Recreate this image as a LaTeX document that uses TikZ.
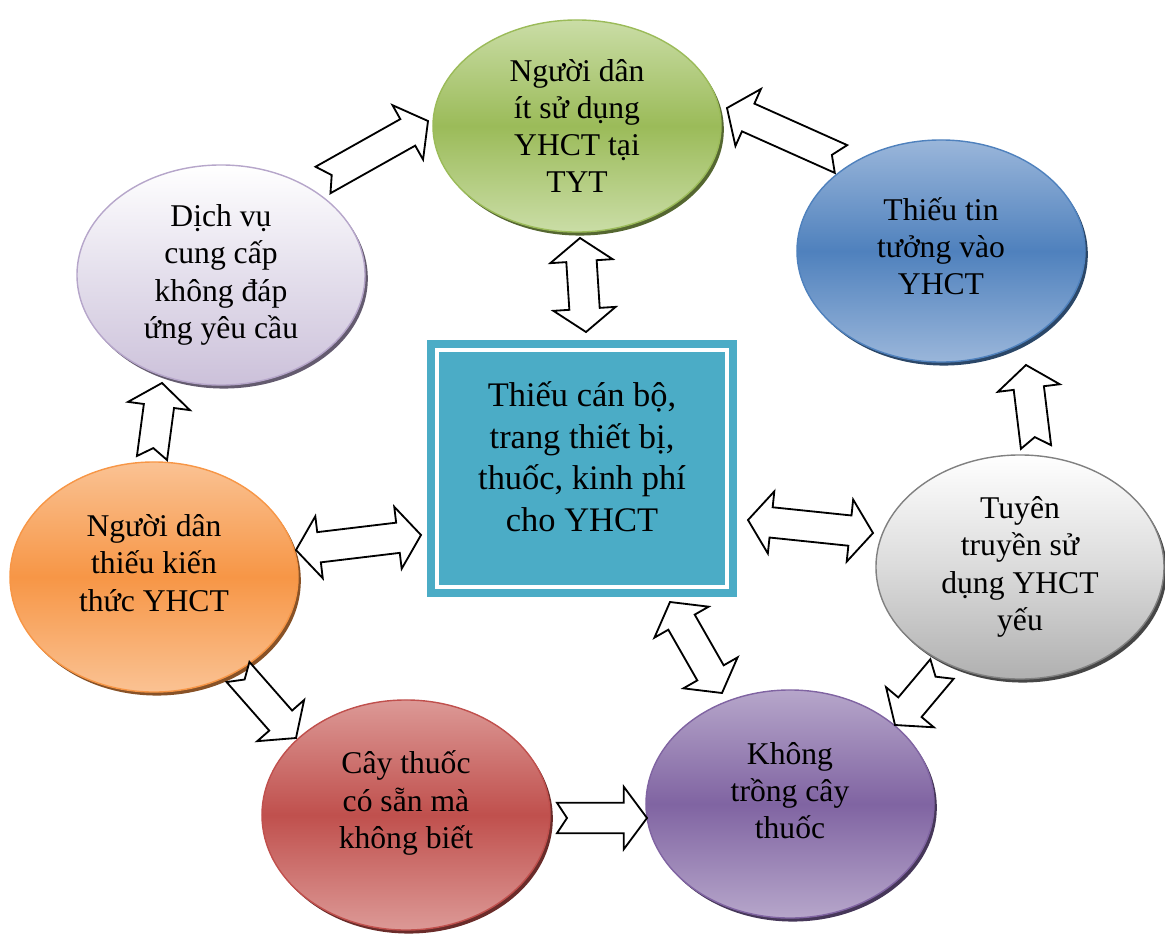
\documentclass[tikz,border=0pt]{standalone}
\usepackage{fontspec}
\setmainfont{Liberation Serif}
\usetikzlibrary{calc,shapes.geometric,shadows}

\definecolor{grnbase}{HTML}{9BBB59}
\definecolor{grnlite}{HTML}{CADDA6}
\definecolor{blubase}{HTML}{4F81BD}
\definecolor{blulite}{HTML}{9AB6DA}
\definecolor{prpbase}{HTML}{8064A2}
\definecolor{prplite}{HTML}{B6A6CA}
\definecolor{redbase}{HTML}{C0504D}
\definecolor{redlite}{HTML}{DC9996}
\definecolor{orgbase}{HTML}{F79646}
\definecolor{orglite}{HTML}{FAC293}
\definecolor{lavmid}{HTML}{E4DFEC}
\definecolor{lavbot}{HTML}{CCC1DA}
\definecolor{boxteal}{HTML}{4BACC6}

% arrow sizes
\newcommand\shaftw{0.38cm}
\newcommand\headw{0.78cm}
\newcommand\headl{0.58cm}
\newcommand\notchd{0.25cm}

% notched block arrow, tail -> tip
\newcommand\onearrow[2]{%
  \coordinate (h) at ($(#2)!\headl!(#1)$);
  \draw[blockarrow] ($(#1)!\shaftw!90:(#2)$) -- ($(#1)!\notchd!(#2)$) -- ($(#1)!\shaftw!-90:(#2)$)
    -- ($(h)!\shaftw!90:(#1)$) -- ($(h)!\headw!90:(#1)$) -- (#2)
    -- ($(h)!\headw!-90:(#1)$) -- ($(h)!\shaftw!-90:(#1)$) -- cycle;}

% block arrow with two heads
\newcommand\twoarrow[2]{%
  \coordinate (h1) at ($(#1)!\headl!(#2)$);
  \coordinate (h2) at ($(#2)!\headl!(#1)$);
  \draw[blockarrow] (#1) -- ($(h1)!\headw!90:(#2)$) -- ($(h1)!\shaftw!90:(#2)$)
    -- ($(h2)!\shaftw!-90:(#1)$) -- ($(h2)!\headw!-90:(#1)$) -- (#2)
    -- ($(h2)!\headw!90:(#1)$) -- ($(h2)!\shaftw!90:(#1)$)
    -- ($(h1)!\shaftw!-90:(#2)$) -- ($(h1)!\headw!-90:(#2)$) -- cycle;}

\tikzset{
  txt/.style={align=center, font=\fontsize{22.5}{26.5}\selectfont},
  bubble/.style n args={4}{ellipse, inner sep=0pt, minimum width=7.2cm, txt,
    draw=#4, line width=1pt, top color=#1, bottom color=#3, middle color=#2,
    drop shadow={shadow xshift=2pt, shadow yshift=-2.5pt, fill=#4!55!black, opacity=1}},
  blockarrow/.style={draw=black, fill=white, line width=1.3pt, line join=miter},
  box/.style={rectangle, minimum width=7.25cm, minimum height=5.925cm,
    fill=boxteal, draw=boxteal, line width=0.2cm, double=white, double distance=0.1cm}
}

\begin{document}
\begin{tikzpicture}[x=0.025cm, y=-0.025cm]
  \useasboundingbox (0,0) rectangle (1165,935);

  \node[box, label={[txt, font=\fontsize{24.5}{29.5}\selectfont, yshift=0.3cm]center:{Thiếu cán bộ,\\trang thiết bị,\\thuốc, kinh phí\\cho YHCT}}] (thieu) at (582,468.5) {};

  \node[bubble={grnlite}{grnbase}{grnlite}{grnbase}, minimum height=5.3cm] (nguoi) at (577,126)
    {Người dân\\ít sử dụng\\YHCT tại\\TYT};
  \node[bubble={blulite}{blubase}{blulite}{blubase}, minimum height=5.55cm,
    label={[txt, yshift=0.12cm]center:{Thiếu tin\\tưởng vào\\YHCT}}] (tin) at (941,251) {};
  \node[bubble={white}{gray!28}{gray!62}{gray}, minimum height=5.6cm] (tuyen) at (1020,567)
    {Tuyên\\truyền sử\\dụng YHCT\\yếu};
  \node[bubble={prplite}{prpbase}{prplite}{prpbase}, minimum height=5.7cm,
    label={[txt, yshift=0.33cm]center:{Không\\trồng cây\\thuốc}}] (khong) at (790,804) {};
  \node[bubble={redlite}{redbase}{redlite}{redbase}, minimum height=5.75cm,
    label={[txt, yshift=0.3cm]center:{Cây thuốc\\có sẵn mà\\không biết}}] (cay) at (406,815) {};
  \node[bubble={orglite}{orgbase}{orglite}{orgbase}, minimum height=5.75cm,
    label={[txt, yshift=0.35cm]center:{Người dân\\thiếu kiến\\thức YHCT}}] (kienthuc) at (154,577) {};
  \node[bubble={white}{lavmid}{lavbot}{prplite}, minimum height=5.5cm] (dichvu) at (221,275)
    {Dịch vụ\\cung cấp\\không đáp\\ứng yêu cầu};

  % arrow ends
  \coordinate (dv-a) at (323,180);   \coordinate (nd-a) at (428,121);
  \coordinate (nd-b) at (580,238);   \coordinate (th-b) at (586,332);
  \coordinate (tt-c) at (841,159);   \coordinate (nd-c) at (727,108);
  \coordinate (tu-d) at (1036,447);  \coordinate (tt-d) at (1026,365);
  \coordinate (th-e) at (748,520);   \coordinate (tu-e) at (873,533);
  \coordinate (th-f) at (670,602);   \coordinate (kh-f) at (722,693);
  \coordinate (tu-g) at (942,669);   \coordinate (kh-g) at (895,725);
  \coordinate (cy-h) at (557,818);   \coordinate (kh-h) at (647,818);
  \coordinate (kt-i) at (238,672);   \coordinate (cy-i) at (296,738);
  \coordinate (kt-j) at (152,458);   \coordinate (dv-j) at (162,383);
  \coordinate (kt-k) at (296,550);   \coordinate (th-k) at (421,535);

  \onearrow{dv-a}{nd-a}
  \twoarrow{nd-b}{th-b}
  \onearrow{tt-c}{nd-c}
  \onearrow{tu-d}{tt-d}
  \twoarrow{th-e}{tu-e}
  \twoarrow{th-f}{kh-f}
  \onearrow{tu-g}{kh-g}
  \onearrow{cy-h}{kh-h}
  \onearrow{kt-i}{cy-i}
  \onearrow{kt-j}{dv-j}
  \twoarrow{kt-k}{th-k}
\end{tikzpicture}
\end{document}
